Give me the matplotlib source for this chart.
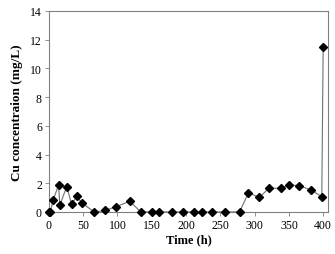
import matplotlib
matplotlib.use("Agg")
import matplotlib.pyplot as plt

time_h = [0, 2, 6, 14, 16, 26, 33, 41, 48, 66, 82, 98, 118, 134, 150, 161, 180,
          195, 211, 223, 238, 257, 278, 291, 307, 321, 338, 350, 365, 382, 398, 400]
cu_mgL = [0, 0, 0.8, 1.87, 0.48, 1.77, 0.55, 1.08, 0.63, 0, 0.1, 0.37, 0.74, 0, 0, 0, 0,
          0, 0, 0, 0, 0, 0, 1.32, 1.02, 1.65, 1.65, 1.87, 1.84, 1.53, 1.07, 11.46]
x_ticks = [0, 50, 100, 150, 200, 250, 300, 350, 400]
y_ticks = [0, 2, 4, 6, 8, 10, 12, 14]

plt.rcParams['font.family'] = ['Liberation Serif', 'DejaVu Serif']

fig = plt.figure(figsize=(3.35, 2.55), dpi=100)
ax = fig.add_axes([0.146, 0.165, 0.833, 0.788])
ax.plot(time_h, cu_mgL, color='#707070', lw=0.8, marker='D', markersize=4.2,
        markerfacecolor='black', markeredgecolor='black', zorder=3, clip_on=False)
ax.set_xlim(0, 407)
ax.set_ylim(0, 14)
ax.set_xticks(x_ticks)
ax.set_yticks(y_ticks)
ax.tick_params(labelsize=8.5, length=3, width=0.6, color='#808080', direction='out', pad=2)
for s in ax.spines.values():
    s.set_color('#808080')
    s.set_linewidth(0.8)
ax.set_xlabel('Time (h)', fontsize=9, fontweight='bold', labelpad=2)
ax.set_ylabel('Cu concentraion (mg/L)', fontsize=9.5, fontweight='bold', labelpad=5)
fig.savefig('out.png', dpi=100)
